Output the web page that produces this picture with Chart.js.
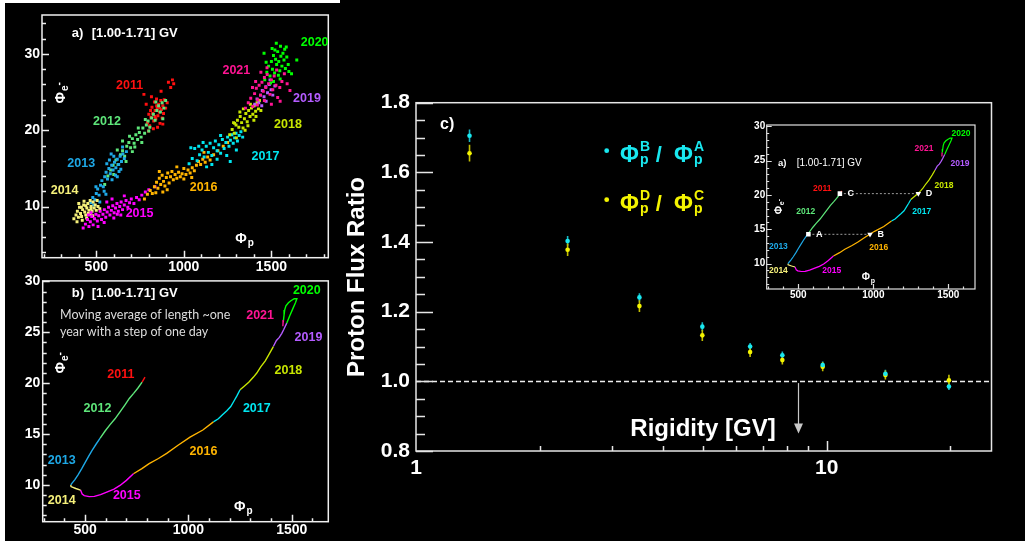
<!DOCTYPE html>
<html>
<head>
<meta charset="utf-8">
<title>Proton flux ratio</title>
<script src="https://cdn.jsdelivr.net/npm/chart.js@4.4.1/dist/chart.umd.min.js"></script>
<style>
  html, body { margin: 0; padding: 0; background: #000; }
  body { position: relative; width: 1025px; height: 541px; overflow: hidden; }
  canvas { position: absolute; }
  #edgeLeft { position: absolute; left: 0; top: 0; width: 5px; height: 541px; background: #fff; }
  #edgeTop { position: absolute; left: 0; top: 0; width: 340px; height: 3px; background: #fff; }
</style>
</head>
<body>
<div id="edgeLeft"></div>
<div id="edgeTop"></div>
<canvas id="scatterA" style="left:0;top:0" width="340" height="285"></canvas>
<canvas id="trackB" style="left:0;top:270px" width="340" height="271"></canvas>
<canvas id="ratio" style="left:340px;top:0" width="685" height="541"></canvas>
<canvas id="inset" style="left:740px;top:115px" width="250" height="195"></canvas>
<script>
const FONT = '"Liberation Sans", Arial, Helvetica, sans-serif';

// ---- panel c : proton flux ratios vs rigidity
const rigidity = [1.35, 2.34, 3.50, 4.98, 6.51, 7.80, 9.78, 13.9, 19.85];
const ratioBA  = [1.705, 1.403, 1.241, 1.157, 1.100, 1.075, 1.047, 1.022, 0.985];
const errBA    = [0.018, 0.014, 0.012, 0.013, 0.010, 0.011, 0.010, 0.011, 0.010];
const ratioDC  = [1.655, 1.378, 1.216, 1.132, 1.084, 1.061, 1.042, 1.018, 1.003];
const errDC    = [0.024, 0.018, 0.017, 0.016, 0.014, 0.013, 0.013, 0.013, 0.016];
const ratioTicksX = [1, 10];
const ratioTicksY = [0.8, 1.0, 1.2, 1.4, 1.6, 1.8];
const cutRigidity = 8.5;

// ---- years and colours
const years = ['2011', '2012', '2013', '2014', '2015', '2016', '2017', '2018', '2019', '2020', '2021'];
const yearColors = ['#ff1010', '#5ee67a', '#1ea8e6', '#f5f07a', '#ff00ff', '#ffb400',
                    '#00e6f0', '#c8e600', '#b45cff', '#00ff00', '#ff1493'];

// ---- panel a : daily (Phi_p, Phi_e-) points, one cloud per year
const cloud2011 = [[792,21.0],[800,22.1],[805,20.6],[812,21.7],[818,23.0],[822,22.2],[828,21.2],[832,23.7],[836,22.6],[840,21.5],[844,24.1],[848,22.9],[852,21.9],[856,23.4],[860,22.4],[864,20.9],[868,23.9],[872,22.7],[876,21.6],[880,23.2],[884,22.2],[888,24.0],[896,22.9],[905,23.6],[815,24.4],[785,23.4],[772,24.7],[798,19.9],[826,20.2],[850,20.4],[870,25.1],[912,26.3],[925,25.6],[935,26.6],[942,26.1],[880,20.8],[845,23.2],[810,22.6],[835,21.8],[862,22.9]];
const cloud2012 = [[548,12.9],[566,14.0],[582,14.8],[596,15.4],[612,16.1],[624,15.5],[638,16.8],[650,17.3],[662,16.6],[674,17.9],[686,18.4],[696,17.7],[706,18.9],[716,18.3],[726,19.4],[736,18.8],[746,19.7],[756,19.1],[766,20.3],[776,19.6],[786,20.7],[796,21.2],[806,20.4],[816,21.6],[826,22.1],[836,21.3],[846,22.6],[856,23.2],[866,22.4],[876,23.6],[886,22.9],[896,23.9],[706,17.2],[740,20.3],[760,18.4],[690,19.2],[650,18.6],[620,17.4],[720,17.8],[780,21.4],[800,19.9],[840,23.7],[670,15.9],[600,14.2],[880,21.5]];
const cloud2013 = [[470,10.5],[480,11.2],[492,10.9],[500,11.7],[508,12.3],[516,11.5],[524,12.8],[532,13.4],[540,12.6],[548,13.9],[556,14.5],[564,13.6],[572,15.0],[580,14.3],[588,15.4],[596,14.8],[604,15.8],[612,15.1],[620,16.2],[628,15.5],[636,16.6],[644,15.9],[652,16.9],[660,16.3],[672,17.2],[590,13.5],[610,14.1],[630,14.6],[560,15.6],[600,16.6],[545,12.0],[520,10.6],[498,12.6],[640,14.9],[575,16.1],[485,10.2],[555,11.6],[620,13.9],[650,17.8],[585,16.9]];
const cloud2014 = [[372,8.4],[384,8.9],[392,9.4],[398,8.6],[404,9.9],[410,9.1],[416,8.7],[422,9.6],[428,10.2],[434,9.3],[440,8.9],[446,9.8],[452,10.4],[458,9.5],[464,9.0],[470,10.0],[476,9.4],[482,10.6],[488,9.8],[494,10.2],[500,9.5],[510,10.0],[520,9.7],[400,10.4],[420,8.2],[445,8.5],[465,10.8],[390,8.0],[430,10.7],[455,9.1],[480,8.8],[505,10.8],[415,9.9],[440,10.1],[470,9.7]];
const cloud2015 = [[425,7.2],[438,7.7],[450,8.3],[458,7.4],[466,8.0],[474,8.7],[482,7.6],[490,8.4],[498,9.0],[506,8.1],[514,8.8],[522,9.4],[530,8.3],[538,9.0],[546,9.6],[554,8.6],[562,9.3],[570,9.9],[578,8.9],[586,9.5],[594,10.1],[602,9.2],[610,9.8],[618,10.4],[626,9.4],[634,10.0],[642,10.6],[650,9.6],[660,10.2],[670,10.8],[680,9.9],[690,10.5],[700,11.0],[715,10.4],[730,11.2],[745,10.9],[760,11.5],[780,11.9],[800,12.2],[835,12.6],[470,9.2],[510,7.4],[560,10.6],[600,8.5],[640,8.9],[545,7.9],[590,11.0],[660,11.4],[455,8.9],[620,9.0]];
const cloud2016 = [[775,11.0],[792,11.6],[808,12.1],[820,11.7],[832,12.6],[844,13.2],[852,12.4],[860,13.7],[868,12.9],[876,14.1],[884,13.3],[892,12.7],[900,13.8],[908,14.4],[916,13.1],[924,13.9],[932,14.6],[940,13.5],[950,14.2],[960,13.7],[970,14.5],[980,13.9],[990,14.3],[1000,13.6],[1012,14.2],[1024,14.8],[1036,14.4],[1048,15.1],[1060,14.7],[1072,15.4],[1084,15.9],[1096,15.5],[1108,16.2],[1122,15.8],[1136,16.5],[1150,16.1],[1170,16.8],[1195,17.3],[1225,17.9],[1250,18.4],[860,14.6],[905,12.2],[840,11.8],[1045,13.8],[1115,17.1],[960,15.2],[1000,15.0],[880,11.9]];
const cloud2017 = [[1030,15.6],[1048,16.3],[1062,17.6],[1076,16.0],[1090,16.8],[1104,17.4],[1116,16.5],[1128,17.9],[1140,17.1],[1150,18.3],[1160,16.7],[1170,17.7],[1180,18.6],[1190,17.3],[1200,18.1],[1210,17.0],[1220,18.8],[1230,17.6],[1240,18.4],[1250,19.1],[1258,17.9],[1266,18.7],[1274,19.4],[1282,18.3],[1290,19.0],[1298,19.6],[1306,18.6],[1316,19.3],[1326,19.8],[1336,19.1],[1110,18.4],[1190,16.2],[1245,16.7],[1265,15.9],[1160,15.5],[1210,19.3],[1085,17.9],[1040,17.7],[1300,17.4],[1130,15.2]];
const cloud2018 = [[1262,19.4],[1276,20.1],[1288,19.6],[1298,20.7],[1306,21.3],[1314,20.4],[1322,21.8],[1330,21.0],[1338,20.3],[1346,21.5],[1354,22.2],[1362,21.1],[1370,22.6],[1378,21.8],[1386,22.9],[1394,22.1],[1402,23.2],[1410,22.5],[1418,23.6],[1426,22.8],[1300,19.0],[1320,22.4],[1350,20.0],[1380,23.4],[1400,21.3],[1432,23.9],[1284,21.0],[1340,22.8],[1366,20.6],[1412,21.8],[1440,22.6],[1290,20.9]];
const cloud2019 = [[1405,23.4],[1418,24.1],[1428,23.6],[1438,24.6],[1448,25.2],[1458,24.4],[1468,25.7],[1478,24.9],[1488,26.0],[1498,25.3],[1508,24.6],[1445,23.2],[1470,23.8],[1492,26.6],[1520,25.8]];
const cloud2020 = [[1462,26.6],[1474,27.6],[1484,28.4],[1492,27.1],[1500,29.0],[1506,28.0],[1512,29.8],[1518,27.5],[1524,29.3],[1530,28.6],[1536,30.3],[1542,29.0],[1548,27.8],[1554,29.7],[1560,28.4],[1566,30.1],[1572,29.2],[1580,28.1],[1588,29.6],[1596,28.6],[1504,30.7],[1528,31.4],[1552,31.0],[1645,29.2],[1615,27.4],[1470,28.9],[1512,26.4],[1550,26.7],[1576,30.6],[1540,27.2],[1520,30.5],[1495,26.2],[1585,30.9],[1600,27.7],[1458,30.1]];
const cloud2021 = [[1352,22.9],[1368,23.6],[1382,24.2],[1394,23.1],[1404,24.8],[1414,25.5],[1422,24.0],[1430,25.9],[1438,24.6],[1446,26.3],[1454,25.1],[1460,26.9],[1468,25.6],[1476,27.3],[1484,26.1],[1492,24.7],[1500,26.6],[1508,25.3],[1516,27.1],[1526,25.9],[1536,24.3],[1548,25.6],[1560,26.4],[1574,27.4],[1590,26.1],[1606,25.2],[1440,27.6],[1410,26.4],[1460,23.9],[1500,23.4],[1392,25.6],[1530,27.9],[1475,28.2],[1420,23.3],[1550,23.8]];
const clouds = [cloud2011, cloud2012, cloud2013, cloud2014, cloud2015, cloud2016,
                cloud2017, cloud2018, cloud2019, cloud2020, cloud2021];

// ---- panel b and inset : one-year moving average track, split by year
const track2011 = [[790,20.6],[776,20.1]];
const track2012 = [[776,20.1],[755,19.5],[735,19.0],[714,18.5],[694,17.9],[670,17.2],[645,16.5],[620,15.9],[597,15.3],[573,14.6]];
const track2013 = [[573,14.6],[553,14.0],[534,13.4],[517,12.8],[500,12.2],[484,11.6],[466,11.0],[450,10.5],[438,10.2],[431,10.0]];
const track2014 = [[431,10.0],[432,9.84],[455,9.65],[478,9.5]];
const track2015 = [[478,9.5],[486,9.1],[496,8.95],[520,8.85],[545,8.88],[575,9.05],[605,9.3],[640,9.6],[669,9.95],[700,10.45],[734,11.1]];
const track2016 = [[734,11.1],[775,11.6],[810,12.1],[855,12.6],[895,13.1],[950,13.9],[1008,14.7],[1070,15.4],[1121,16.2]];
const track2017 = [[1121,16.2],[1145,16.5],[1165,16.9],[1186,17.3],[1205,17.7],[1222,18.3],[1236,18.8],[1250,19.35]];
const track2018 = [[1250,19.35],[1270,19.7],[1292,20.1],[1315,20.6],[1331,21.0],[1350,21.6],[1372,22.2],[1392,22.9],[1411,23.6]];
const track2019 = [[1411,23.6],[1426,24.2],[1440,24.5],[1452,24.9],[1462,25.3],[1476,25.9]];
const track2020 = [[1476,25.9],[1490,26.6],[1505,27.3],[1518,27.9],[1525,28.3],[1512,28.3],[1496,28.1],[1484,27.9],[1472,27.6],[1466,27.2],[1463,26.7],[1460,26.2]];
const track2021 = [[1460,26.2],[1458,25.9],[1457,25.6]];
const tracks = [track2011, track2012, track2013, track2014, track2015, track2016,
                track2017, track2018, track2019, track2020, track2021];

// ---- inset markers
const markerNames = ['A', 'B', 'C', 'D'];
const markerPhiP  = [567, 978, 777, 1300];
const markerPhiE  = [14.27, 14.27, 20.2, 20.2];

// ---------------------------------------------------------------
function range(a, b, step) {
  const out = [];
  for (let v = a; v <= b + 1e-9; v += step) out.push(+v.toFixed(4));
  return out;
}
function tickList(major, majLen, minor, minLen) {
  return major.map(v => [v, majLen]).concat(minor.filter(v => !major.includes(v)).map(v => [v, minLen]));
}

function baseOptions(p) {
  const font = { family: FONT, size: p.fontSize, weight: 'bold' };
  return {
    responsive: false,
    animation: false,
    events: [],
    layout: { padding: { left: 0, top: p.area.t, right: p.w - p.area.r, bottom: p.h - p.area.b - p.xh } },
    plugins: { legend: { display: false }, tooltip: { enabled: false } },
    scales: {
      x: {
        type: p.x.type || 'linear', min: p.x.min, max: p.x.max,
        grid: { display: false, drawTicks: false }, border: { display: false },
        afterBuildTicks: s => { s.ticks = p.x.ticks.map(v => ({ value: v })); },
        afterFit: s => { s.height = p.xh; },
        ticks: { color: '#fff', autoSkip: false, maxRotation: 0, minRotation: 0, padding: p.xPad, font,
                 callback: v => String(v) }
      },
      y: {
        min: p.y.min, max: p.y.max,
        grid: { display: false, drawTicks: false }, border: { display: false },
        afterBuildTicks: s => { s.ticks = p.y.ticks.map(v => ({ value: v })); },
        afterFit: s => { s.width = p.area.l; },
        ticks: { color: '#fff', autoSkip: false, padding: p.yPad, font,
                 callback: v => p.y.fmt ? p.y.fmt(v) : String(v) }
      }
    }
  };
}

function framePlugin(cfg) {
  return {
    id: 'frame',
    afterDatasetsDraw(chart) {
      const { ctx, chartArea: a, scales: { x, y } } = chart;
      ctx.save();
      ctx.strokeStyle = cfg.color;
      ctx.lineWidth = cfg.width;
      ctx.beginPath();
      cfg.xTicks.forEach(([v, len]) => {
        const p = Math.round(x.getPixelForValue(v)) + 0.5;
        ctx.moveTo(p, a.bottom); ctx.lineTo(p, a.bottom - len);
      });
      cfg.yTicks.forEach(([v, len]) => {
        const p = Math.round(y.getPixelForValue(v)) + 0.5;
        ctx.moveTo(a.left, p); ctx.lineTo(a.left + len, p);
      });
      ctx.stroke();
      ctx.strokeRect(a.left, a.top, a.right - a.left, a.bottom - a.top);
      ctx.restore();
    }
  };
}

function drawPhi(ctx, n) {
  const big = `bold ${n.size}px ${FONT}`, small = `bold ${n.small}px ${FONT}`;
  ctx.font = big;
  const w = ctx.measureText('\u03A6').width;
  ctx.font = small;
  const ws = Math.max(n.sub ? ctx.measureText(n.sub).width : 0, n.sup ? ctx.measureText(n.sup).width : 0);
  const wm = n.minus ? ctx.measureText('-').width : 0;
  const total = w + 1 + ws + wm;
  const x0 = n.align === 'left' ? 0 : -total / 2;
  const y0 = n.align === 'left' ? 0 : n.size * 0.36;
  ctx.textAlign = 'left';
  ctx.textBaseline = 'alphabetic';
  ctx.font = big;
  ctx.fillText('\u03A6', x0, y0);
  ctx.font = small;
  if (n.sup) ctx.fillText(n.sup, x0 + w + 1, y0 + n.supDy);
  if (n.sub) ctx.fillText(n.sub, x0 + w + 1, y0 + n.subDy);
  if (n.minus) ctx.fillText('-', x0 + w + 1 + ws, y0 + n.subDy - n.small * 0.55);
}

function drawRatioLegend(ctx, n) {
  ctx.beginPath();
  ctx.arc(0, -11, 2.4, 0, Math.PI * 2);
  ctx.fill();
  const phi = { size: 23, small: 14, supDy: -10.5, subDy: 2, align: 'left' };
  ctx.save(); ctx.translate(13.3, 0); drawPhi(ctx, Object.assign({ sup: n.num, sub: 'p' }, phi)); ctx.restore();
  ctx.font = `bold 22px ${FONT}`;
  ctx.textAlign = 'center';
  ctx.fillText('/', 52, 0);
  ctx.save(); ctx.translate(67.3, 0); drawPhi(ctx, Object.assign({ sup: n.den, sub: 'p' }, phi)); ctx.restore();
}

function notesPlugin(items) {
  return {
    id: 'notes',
    afterDraw(chart) {
      const ctx = chart.ctx, a = chart.chartArea;
      items.forEach(n => {
        let x, y;
        if (n.data) { x = chart.scales.x.getPixelForValue(n.data[0]); y = chart.scales.y.getPixelForValue(n.data[1]); }
        else if (n.area) { x = a.left + n.area[0]; y = a.top + n.area[1]; }
        else { x = n.canvas[0]; y = n.canvas[1]; }
        ctx.save();
        ctx.translate(x, y);
        if (n.rot) ctx.rotate(n.rot * Math.PI / 180);
        ctx.fillStyle = n.color || '#fff';
        if (n.kind === 'phi') drawPhi(ctx, n);
        else if (n.kind === 'ratio') drawRatioLegend(ctx, n);
        else {
          ctx.font = n.font;
          ctx.textAlign = n.align || 'center';
          ctx.textBaseline = n.baseline || 'middle';
          ctx.fillText(n.text, 0, 0);
        }
        ctx.restore();
      });
    }
  };
}

function yearLabels(positions, size) {
  return years.map((y, i) => ({ data: positions[i], text: y, color: yearColors[i],
                                font: `bold ${size}px ${FONT}` }));
}

// ---------------------------------------------------------------
// panel a
const labelPosA = [[690,25.9],[561,21.1],[414,15.6],[319,12.1],[747,9.1],[1113,12.5],
                   [1466,16.6],[1595,20.7],[1703,24.2],[1747,31.5],[1300,27.8]];
new Chart(document.getElementById('scatterA'), {
  type: 'scatter',
  data: {
    datasets: clouds.map((pts, i) => ({
      label: years[i], data: pts, order: -i,
      backgroundColor: yearColors[i], borderWidth: 0, pointRadius: 2.1, pointStyle: 'rect'
    }))
  },
  options: baseOptions({
    w: 340, h: 285, area: { l: 42, t: 15, r: 328.3, b: 257.7 }, xh: 25, fontSize: 14, xPad: 1, yPad: 2,
    x: { min: 190, max: 1825, ticks: [500, 1000, 1500] },
    y: { min: 3.3, max: 35.1, ticks: [10, 20, 30] }
  }),
  plugins: [
    framePlugin({ color: '#f0f0f0', width: 1.5,
      xTicks: tickList([500, 1000, 1500], 7, range(200, 1800, 100), 3.5),
      yTicks: tickList([10, 20, 30], 7, range(4, 34, 2), 4) }),
    notesPlugin([
      { area: [29.7, 22], text: 'a)', font: `bold 13px ${FONT}`, align: 'left', baseline: 'alphabetic' },
      { area: [49.7, 22], text: '[1.00-1.71] GV', font: `bold 13px ${FONT}`, align: 'left', baseline: 'alphabetic' },
      { data: [1347, 5.9], kind: 'phi', size: 14, small: 10, sub: 'p', subDy: 3 },
      { data: [290, 24.9], kind: 'phi', rot: -90, size: 14, small: 10, sub: 'e', subDy: 3, minus: true }
    ].concat(yearLabels(labelPosA, 12.5)))
  ]
});

// panel b
const labelPosB = [[673,20.8],[560,17.5],[387,12.4],[387,8.5],[702,9.0],[1073,13.3],
                   [1331,17.5],[1484,21.2],[1581,24.5],[1573,29.1],[1347,26.6]];
new Chart(document.getElementById('trackB'), {
  type: 'scatter',
  data: {
    datasets: tracks.map((pts, i) => ({
      label: years[i], data: pts, showLine: true, pointRadius: 0,
      borderColor: yearColors[i], borderWidth: 1.4, tension: 0
    }))
  },
  options: baseOptions({
    w: 340, h: 271, area: { l: 42.7, t: 9.3, r: 328.3, b: 251.7 }, xh: 19.3, fontSize: 14, xPad: 0, yPad: 2.5,
    x: { min: 295, max: 1677, ticks: [500, 1000, 1500] },
    y: { min: 6.39, max: 30.05, ticks: [10, 15, 20, 25, 30] }
  }),
  plugins: [
    framePlugin({ color: '#f0f0f0', width: 1.5,
      xTicks: tickList([500, 1000, 1500], 7, range(300, 1600, 100), 3.5),
      yTicks: tickList([10, 15, 20, 25, 30], 7, range(7, 30, 1), 4) }),
    notesPlugin([
      { area: [29, 15.7], text: 'b)', font: `bold 13px ${FONT}`, align: 'left', baseline: 'alphabetic' },
      { area: [49, 15.7], text: '[1.00-1.71] GV', font: `bold 13px ${FONT}`, align: 'left', baseline: 'alphabetic' },
      { area: [17.3, 38.4], text: 'Moving average of length ~one', color: '#dcdcdc',
        font: `12.5px Lato, "Open Sans", sans-serif`, align: 'left', baseline: 'alphabetic' },
      { area: [17.3, 55], text: 'year with a step of one day', color: '#dcdcdc',
        font: `12.5px Lato, "Open Sans", sans-serif`, align: 'left', baseline: 'alphabetic' },
      { data: [1266, 7.9], kind: 'phi', size: 14, small: 10, sub: 'p', subDy: 3 },
      { data: [379, 22.0], kind: 'phi', rot: -90, size: 14, small: 10, sub: 'e', subDy: 3, minus: true }
    ].concat(yearLabels(labelPosB, 12.5)))
  ]
});

// panel c : main ratio plot
const errorBarPlugin = {
  id: 'errorBars',
  beforeDatasetsDraw(chart) {
    const { ctx, scales: { x, y } } = chart;
    ctx.save();
    chart.data.datasets.forEach(ds => {
      if (!ds.errorBars) return;
      ctx.strokeStyle = ds.barColor;
      ctx.lineWidth = 1.6;
      ctx.beginPath();
      ds.data.forEach((pt, i) => {
        const px = x.getPixelForValue(pt.x);
        ctx.moveTo(px, y.getPixelForValue(pt.y - ds.errorBars[i]));
        ctx.lineTo(px, y.getPixelForValue(pt.y + ds.errorBars[i]));
      });
      ctx.stroke();
    });
    ctx.restore();
  }
};
const guidePlugin = {
  id: 'guides',
  beforeDatasetsDraw(chart) {
    const { ctx, chartArea: a, scales: { x, y } } = chart;
    ctx.save();
    // unity line
    const py = Math.round(y.getPixelForValue(1.0)) + 0.5;
    ctx.strokeStyle = '#eeeeee';
    ctx.lineWidth = 1.4;
    ctx.setLineDash([5, 3]);
    ctx.beginPath(); ctx.moveTo(a.left, py); ctx.lineTo(a.right, py); ctx.stroke();
    ctx.setLineDash([]);
    // arrow marking the rigidity cut
    const ax = Math.round(x.getPixelForValue(cutRigidity)) + 0.5;
    const yTop = y.getPixelForValue(0.995), yTip = y.getPixelForValue(0.85);
    ctx.strokeStyle = '#c8c8c8';
    ctx.fillStyle = '#c8c8c8';
    ctx.lineWidth = 1.2;
    ctx.beginPath(); ctx.moveTo(ax, yTop); ctx.lineTo(ax, yTip - 8); ctx.stroke();
    ctx.beginPath(); ctx.moveTo(ax - 4.5, yTip - 10); ctx.lineTo(ax + 4.5, yTip - 10); ctx.lineTo(ax, yTip); ctx.closePath(); ctx.fill();
    ctx.restore();
  }
};

const ratioOptions = baseOptions({
  w: 685, h: 541, area: { l: 76, t: 102.7, r: 651.5, b: 451 }, xh: 40, fontSize: 21, xPad: 5, yPad: 6,
  x: { type: 'logarithmic', min: 1, max: 25.2, ticks: ratioTicksX },
  y: { min: 0.8, max: 1.8, ticks: ratioTicksY, fmt: v => v.toFixed(1) }
});
new Chart(document.getElementById('ratio'), {
  type: 'scatter',
  data: {
    datasets: [
      { label: 'PhiB/PhiA', data: rigidity.map((r, i) => ({ x: r, y: ratioBA[i] })), errorBars: errBA,
        barColor: '#17b8c4', backgroundColor: '#19e8f0', borderWidth: 0, pointRadius: 2.3 },
      { label: 'PhiD/PhiC', data: rigidity.map((r, i) => ({ x: r, y: ratioDC[i] })), errorBars: errDC,
        barColor: '#c4c000', backgroundColor: '#f4f400', borderWidth: 0, pointRadius: 2.3 }
    ]
  },
  options: ratioOptions,
  plugins: [
    guidePlugin, errorBarPlugin,
    framePlugin({ color: '#e6e6e6', width: 1.5,
      xTicks: tickList([10], 10, [2, 3, 4, 5, 6, 7, 8, 9, 20], 5),
      yTicks: tickList(ratioTicksY, 17, range(0.85, 1.75, 0.05), 9) }),
    notesPlugin([
      { area: [24, 22], text: 'c)', font: `bold 16px ${FONT}`, align: 'left' },
      { canvas: [24, 277], rot: -90, text: 'Proton Flux Ratio', font: `bold 24px ${FONT}`, baseline: 'alphabetic' },
      { area: [287, 333.3], text: 'Rigidity [GV]', font: `bold 24px ${FONT}`, baseline: 'alphabetic' },
      { area: [190.7, 59], kind: 'ratio', num: 'B', den: 'A', color: '#19e8f0' },
      { area: [190.7, 108], kind: 'ratio', num: 'D', den: 'C', color: '#f4f400' }
    ])
  ]
});

// inset : track with the A/B and C/D selections
const labelPosInset = [[660,20.9],[549,17.5],[367,12.4],[367,9.0],[723,9.0],[1036,12.3],
                       [1323,17.5],[1471,21.3],[1578,24.6],[1585,29.0],[1338,26.8]];
const insetDatasets = tracks.map((pts, i) => ({
  label: years[i], data: pts, showLine: true, pointRadius: 0,
  borderColor: yearColors[i], borderWidth: 1.2, tension: 0
}));
[[0, 1], [2, 3]].forEach(([a, b]) => insetDatasets.push({
  label: markerNames[a] + markerNames[b],
  data: [[markerPhiP[a], markerPhiE[a]], [markerPhiP[b], markerPhiE[b]]],
  showLine: true, pointRadius: 0, borderColor: '#9a9a9a', borderWidth: 1, borderDash: [2, 2]
}));
insetDatasets.unshift({
  label: 'markers',
  data: markerPhiP.map((p, i) => [p, markerPhiE[i]]),
  pointStyle: ['rect', 'triangle', 'rect', 'triangle'],
  rotation: [0, 180, 0, 180],
  pointRadius: 3.2, backgroundColor: '#ffffff', borderWidth: 0
});
new Chart(document.getElementById('inset'), {
  type: 'scatter',
  data: { datasets: insetDatasets },
  options: baseOptions({
    w: 250, h: 195, area: { l: 26.7, t: 10, r: 235, b: 174 }, xh: 21, fontSize: 10, xPad: 0, yPad: 1.5,
    x: { min: 289, max: 1678, ticks: [500, 1000, 1500] },
    y: { min: 6.3, max: 30.2, ticks: [10, 15, 20, 25, 30] }
  }),
  plugins: [
    framePlugin({ color: '#e0e0e0', width: 1.2,
      xTicks: tickList([500, 1000, 1500], 5, range(300, 1600, 100), 2.5),
      yTicks: tickList([10, 15, 20, 25, 30], 5, range(7, 30, 1), 2.5) }),
    notesPlugin([
      { area: [11.3, 41], text: 'a)', font: `bold 9.5px ${FONT}`, align: 'left', baseline: 'alphabetic' },
      { area: [30, 41], text: '[1.00-1.71] GV', font: `10px ${FONT}`, align: 'left', baseline: 'alphabetic' },
      { data: [967, 8.1], kind: 'phi', size: 10, small: 7, sub: 'p', subDy: 2.5 },
      { data: [367, 18.3], kind: 'phi', rot: -90, size: 10, small: 7, sub: 'e', subDy: 2.5, minus: true }
    ].concat(markerNames.map((m, i) => ({
      data: [markerPhiP[i], markerPhiE[i]], text: '   ' + m, font: `bold 9px ${FONT}`, align: 'left'
    }))).concat(yearLabels(labelPosInset, 8.5)))
  ]
});
</script>
</body>
</html>
